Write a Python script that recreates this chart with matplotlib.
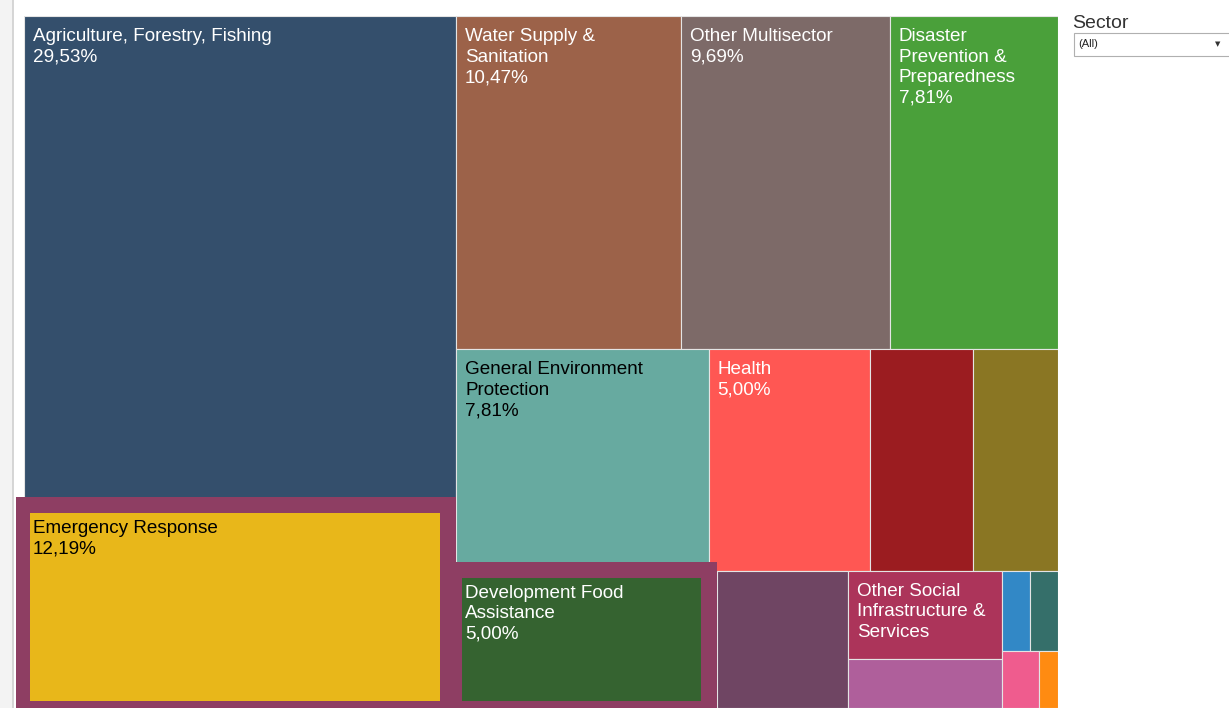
import matplotlib
matplotlib.use("Agg")
import matplotlib.pyplot as plt
from matplotlib.patches import Rectangle

plt.rcParams['font.family'] = ['Liberation Sans', 'DejaVu Sans']

# sector shares in %, largest first (the small tiles carry no label in the view)
labels = ["Agriculture, Forestry, Fishing", "Emergency Response", "Water Supply &\nSanitation",
          "Other Multisector", "Disaster\nPrevention &\nPreparedness", "General Environment\nProtection",
          "Health", "Development Food\nAssistance", "", "", "",
          "Other Social\nInfrastructure &\nServices", "", "", "", "", ""]
shares = [29.53, 12.19, 10.47, 9.69, 7.81, 7.81, 5.00, 5.00, 3.16, 2.64, 2.51,
          1.89, 1.05, 0.32, 0.31, 0.30, 0.15]
show_pct = [True] * 8 + [False] * 9
colors = ["#344f6c", "#e8b71a", "#9c6249", "#7d6a68", "#4aa03a", "#67aaa0", "#ff5753",
          "#356330", "#9b1c20", "#8a7623", "#6f4563", "#ac345a", "#af5f9b", "#3288c6",
          "#356f6a", "#ef5c8e", "#ff8b11"]
text_colors = ["white", "black", "white", "white", "white", "black", "white", "white"] + ["white"] * 9
highlighted = [1, 7]
frame_color = "#8e3e63"

# how the tiles nest; the split direction flips at every level
tree = [[0, 1], [[2, 3, 4], [5, 6, 8, 9], [7, 10, [11, 12], [[13, 14], [15, 16]]]]]


def total(node):
    if isinstance(node, int):
        return shares[node]
    return sum(total(n) for n in node)


def layout(node, x, y, w, h, horiz, out):
    if isinstance(node, int):
        out[node] = (x, y, w, h)
        return
    s = total(node)
    for child in node:
        f = total(child) / s
        if horiz:
            layout(child, x, y, w * f, h, not horiz, out)
            x += w * f
        else:
            layout(child, x, y, w, h * f, not horiz, out)
            y += h * f


W, H = 1229, 708
fig = plt.figure(figsize=(W / 100, H / 100), dpi=100)

# grey strip on the left of the dashboard
fig.patches.append(Rectangle((0, 0), 12 / W, 1, transform=fig.transFigure, color="#f3f3f3", zorder=0))
fig.lines.append(plt.Line2D([12.5 / W] * 2, [0, 1], transform=fig.transFigure, color="#cfcfcf", lw=1.2))

x0, y0, tw, th = 24, 16, 1034, 692
ax = fig.add_axes([x0 / W, 0, tw / W, th / H])
ax.set_xlim(0, tw)
ax.set_ylim(th, 0)
ax.axis("off")

rects = {}
layout(tree, 0, 0, tw, th, True, rects)

for i, (x, y, w, h) in rects.items():
    ax.add_patch(Rectangle((x, y), w, h, facecolor=colors[i], edgecolor="#e4e4e4", lw=0.8, zorder=1))

# selected marks get a thick frame
for i in highlighted:
    x, y, w, h = rects[i]
    ax.add_patch(Rectangle((x - 8, y - 9), w + 8, h + 9, facecolor=frame_color, lw=0, zorder=2, clip_on=False))
    ax.add_patch(Rectangle((x + 6, y + 7), w - 22, h - 14, facecolor=colors[i], lw=0, zorder=3))

for i, (x, y, w, h) in rects.items():
    if not labels[i]:
        continue
    txt = labels[i]
    if show_pct[i]:
        txt += "\n" + f"{shares[i]:.2f}%".replace(".", ",")
    dy = 14 if i in highlighted else 12
    ax.text(x + 9, y + dy, txt, color=text_colors[i], fontsize=13.6, va="top", ha="left",
            linespacing=1.27, zorder=4)

# filter card
fig.text(1072 / W, 1 - 23 / H, "Sector", fontsize=14, va="center", ha="left", color="#333333")
fig.patches.append(Rectangle((1073.5 / W, 1 - 56 / H), 160 / W, 23 / H, transform=fig.transFigure,
                             facecolor="white", edgecolor="#b0b0b0", lw=0.8))
fig.text(1078 / W, 1 - 44 / H, "(All)", fontsize=8, va="center", ha="left", color="#222222")
fig.text(1218 / W, 1 - 44.5 / H, "▼", fontsize=5, va="center", ha="center", color="#333333",
         family="DejaVu Sans")

fig.savefig("out.png", dpi=100)
